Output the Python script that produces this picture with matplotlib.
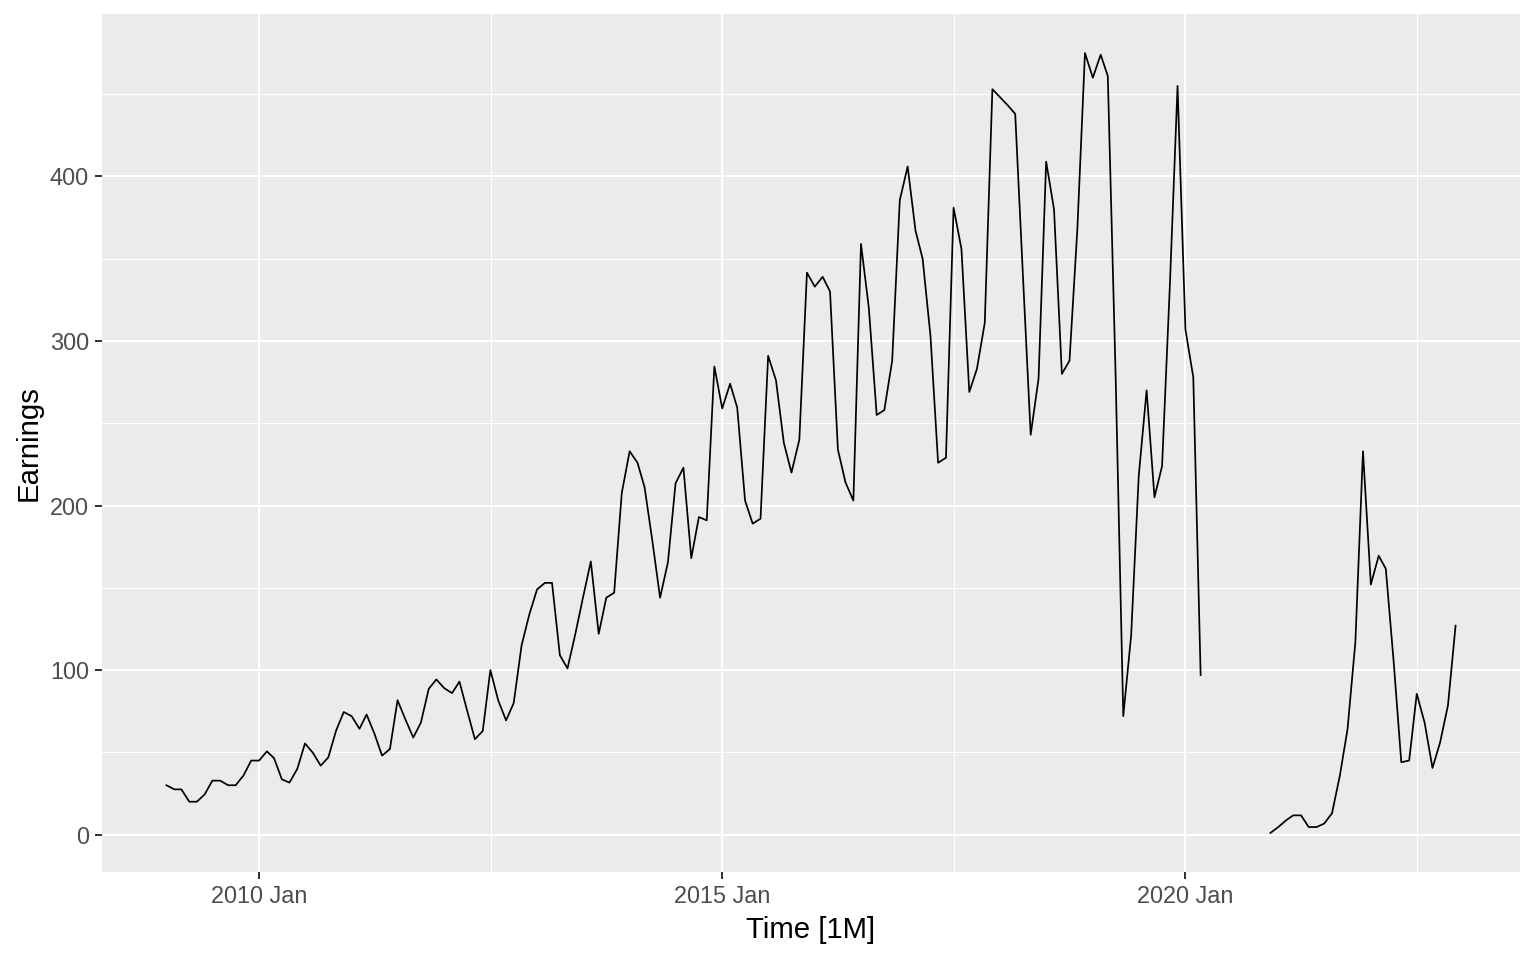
## Monthly earnings time series, ggplot-like look
import numpy as np
import pandas as pd
import matplotlib
matplotlib.use("Agg")
import matplotlib.pyplot as plt
import matplotlib.dates as mdates

# monthly values, 2009 Jan .. 2022 Dec (NaN = missing months in 2020)
earn_2009 = [30, 27.5, 27.5, 20, 20, 24.5, 32.8, 32.8, 30, 30, 36, 45]
earn_2010 = [45, 50.6, 46.5, 33.6, 31.6, 40, 55.4, 49.8, 41.9, 46.9, 63.3, 74.5]
earn_2011 = [72, 64.3, 73, 61.3, 48, 52, 81.7, 70, 59, 68, 88.6, 94.3]
earn_2012 = [89, 86, 93, 75, 58, 63, 100, 81.5, 69.4, 80, 115, 133.5]
earn_2013 = [149, 153, 153, 109, 101, 122, 144, 166, 122, 144, 147, 207.6]
earn_2014 = [233, 226, 211, 178, 144, 165.5, 213.5, 223, 168, 193, 191, 284.5]
earn_2015 = [259, 274, 259.6, 203, 189, 192, 291, 276, 238, 220, 240, 341.5]
earn_2016 = [333, 339, 330, 234, 214, 203, 359, 320, 255, 258, 288, 385.6]
earn_2017 = [406, 367, 350, 303, 226, 229, 381, 356, 269, 283, 311, 453]
earn_2018 = [448, 443, 438, 338, 243, 277, 409, 380, 280, 288, 368, 475]
earn_2019 = [460, 474, 461, 278, 72, 121, 218, 270, 205, 224, 335, 455]
earn_2020 = [307, 278, 97, np.nan, np.nan, np.nan, np.nan, np.nan, np.nan, np.nan, np.nan, 1]
earn_2021 = [4.6, 8.7, 11.7, 11.7, 4.6, 4.6, 6.7, 13, 36, 64, 117, 233]
earn_2022 = [152, 169.5, 161.5, 105, 44, 45, 85.6, 68, 40.5, 56, 78.5, 127]

y_ticks = [0, 100, 200, 300, 400]
x_ticks = ["2010-01-01", "2015-01-01", "2020-01-01"]
x_minor = ["2012-07-02", "2017-07-02", "2022-07-02"]

earnings = np.array(earn_2009 + earn_2010 + earn_2011 + earn_2012 + earn_2013
                    + earn_2014 + earn_2015 + earn_2016 + earn_2017 + earn_2018
                    + earn_2019 + earn_2020 + earn_2021 + earn_2022, dtype=float)
months = pd.date_range("2009-01-01", periods=len(earnings), freq="MS")

plt.rcParams["font.family"] = ["Liberation Sans", "DejaVu Sans"]

fig = plt.figure(figsize=(8, 5), dpi=192)
ax = fig.add_axes([0.0664, 0.0917, 0.9232, 0.8937])
ax.set_facecolor("#EBEBEB")

ax.plot(months, earnings, color="black", linewidth=0.65, zorder=3)

# ggplot style 5% expansion
xnum = mdates.date2num(months)
xr = xnum.max() - xnum.min()
ax.set_xlim(xnum.min() - 0.05 * xr, xnum.max() + 0.05 * xr)
ymin, ymax = np.nanmin(earnings), np.nanmax(earnings)
yr = ymax - ymin
ax.set_ylim(ymin - 0.05 * yr, ymax + 0.05 * yr)

ax.set_xticks(mdates.date2num(pd.to_datetime(x_ticks)))
ax.set_xticks(mdates.date2num(pd.to_datetime(x_minor)), minor=True)
ax.xaxis.set_major_formatter(mdates.DateFormatter("%Y %b"))
ax.set_yticks(y_ticks)
ax.set_yticks([v + 50 for v in y_ticks], minor=True)

ax.grid(which="major", color="white", linewidth=0.75)
ax.grid(which="minor", color="white", linewidth=0.4)
ax.set_axisbelow(True)

for s in ax.spines.values():
    s.set_visible(False)

ax.tick_params(which="major", length=2.75, width=0.75, color="#333333",
               labelsize=8.8, labelcolor="#4D4D4D", pad=2.2)
ax.tick_params(which="minor", length=0)

ax.set_xlabel("Time [1M]", fontsize=11, color="black", labelpad=2.75)
ax.set_ylabel("Earnings", fontsize=11, color="black", labelpad=2.75)

fig.savefig("out.png", dpi=192)
